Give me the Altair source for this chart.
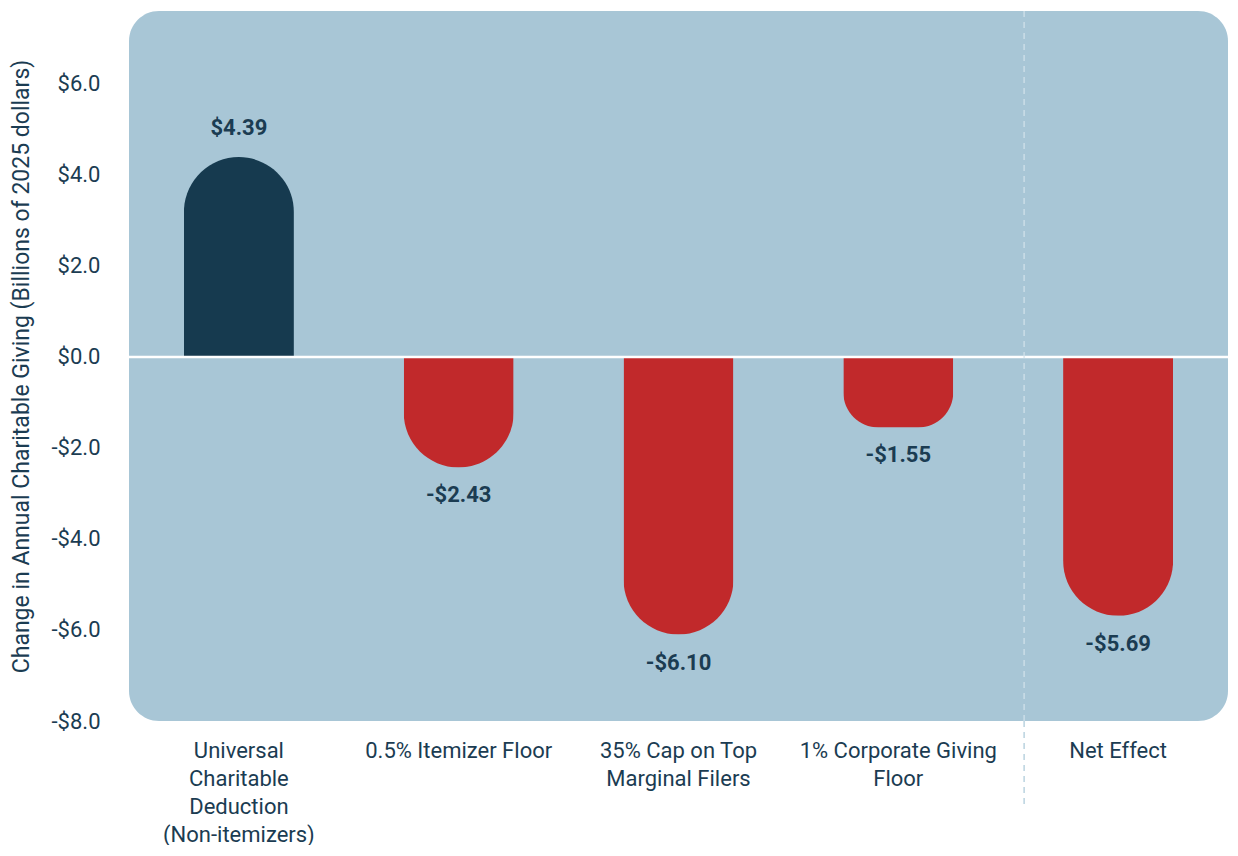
import altair as alt
import pandas as pd

categories = [
    "Universal|Charitable|Deduction|(Non-itemizers)",
    "0.5% Itemizer Floor",
    "35% Cap on Top|Marginal Filers",
    "1% Corporate Giving|Floor",
    "Net Effect",
]
values = [4.39, -2.43, -6.10, -1.55, -5.69]
y_ticks = [-8, -6, -4, -2, 0, 2, 4, 6]

df = pd.DataFrame({"category": categories, "value": values})

NAVY = "#163a4f"
RED = "#c1292b"
BG = "#a8c6d6"
TEXT = "#1b3c52"
FONT = "Roboto"
Y_DOMAIN = [-8, 7.6]

x_enc = alt.X(
    "category:N",
    sort=categories,
    title=None,
    scale=alt.Scale(paddingInner=0.5, paddingOuter=0.25),
    axis=alt.Axis(
        labelExpr="split(datum.label, '|')",
        labelAngle=0,
        labelFontSize=22,
        labelLineHeight=28,
        labelColor=TEXT,
        labelFont=FONT,
        labelPadding=19,
        domain=False,
        ticks=False,
        labelLimit=300,
    ),
)
y_enc = alt.Y(
    "value:Q",
    title="Change in Annual Charitable Giving (Billions of 2025 dollars)",
    scale=alt.Scale(domain=Y_DOMAIN, nice=False, zero=True),
    axis=alt.Axis(
        values=y_ticks,
        labelExpr="(datum.value < 0 ? '-' : '') + '$' + format(abs(datum.value), '.1f')",
        labelFontSize=22,
        labelColor=TEXT,
        labelFont=FONT,
        labelPadding=29,
        titleFontSize=23,
        titleFontWeight="normal",
        titleColor=TEXT,
        titleFont=FONT,
        titlePadding=18,
        domain=False,
        ticks=False,
        grid=False,
    ),
)

base = alt.Chart(df).transform_calculate(
    label="(datum.value < 0 ? '-' : '') + '$' + format(abs(datum.value), '.2f')"
)

pos_bars = base.transform_filter("datum.value > 0").mark_bar(
    size=110, color=NAVY, cornerRadiusTopLeft=55, cornerRadiusTopRight=55
).encode(x=x_enc, y=y_enc)

neg_bars = base.transform_filter("datum.value < 0").mark_bar(
    size=110, color=RED, cornerRadiusBottomLeft=55, cornerRadiusBottomRight=55
).encode(x=x_enc, y=y_enc)

pos_text = base.transform_filter("datum.value > 0").mark_text(
    dy=-29, fontSize=22, fontWeight="bold", color=TEXT, font=FONT, baseline="middle"
).encode(x=x_enc, y=y_enc, text="label:N")

neg_text = base.transform_filter("datum.value < 0").mark_text(
    dy=28, fontSize=22, fontWeight="bold", color=TEXT, font=FONT, baseline="middle"
).encode(x=x_enc, y=y_enc, text="label:N")

zero_line = alt.Chart(pd.DataFrame({"z": [0]})).mark_rule(
    color="white", strokeWidth=2.5
).encode(y=alt.Y("z:Q", scale=alt.Scale(domain=Y_DOMAIN, nice=False)))

divider_in = alt.Chart(pd.DataFrame({"category": ["Net Effect"]})).mark_rule(
    color="#d3e3eb", strokeWidth=1.2, strokeDash=[6, 5], xOffset=-94
).encode(x=alt.X("category:N", sort=categories), y=alt.value(0), y2=alt.value(710))

divider_out = alt.Chart(pd.DataFrame({"category": ["Net Effect"]})).mark_rule(
    color="#a9c8d8", strokeWidth=1.2, strokeDash=[6, 5], xOffset=-94
).encode(x=alt.X("category:N", sort=categories), y=alt.value(710), y2=alt.value(795))

chart = alt.layer(
    pos_bars, neg_bars, zero_line, pos_text, neg_text, divider_in, divider_out
).properties(
    width=1099,
    height=710,
    padding={"left": 2, "top": 2, "right": 0, "bottom": 0},
).configure_view(
    fill=BG, stroke=None, cornerRadius=30
)

chart.save("out.html", embed_options={"renderer": "svg", "actions": False})
